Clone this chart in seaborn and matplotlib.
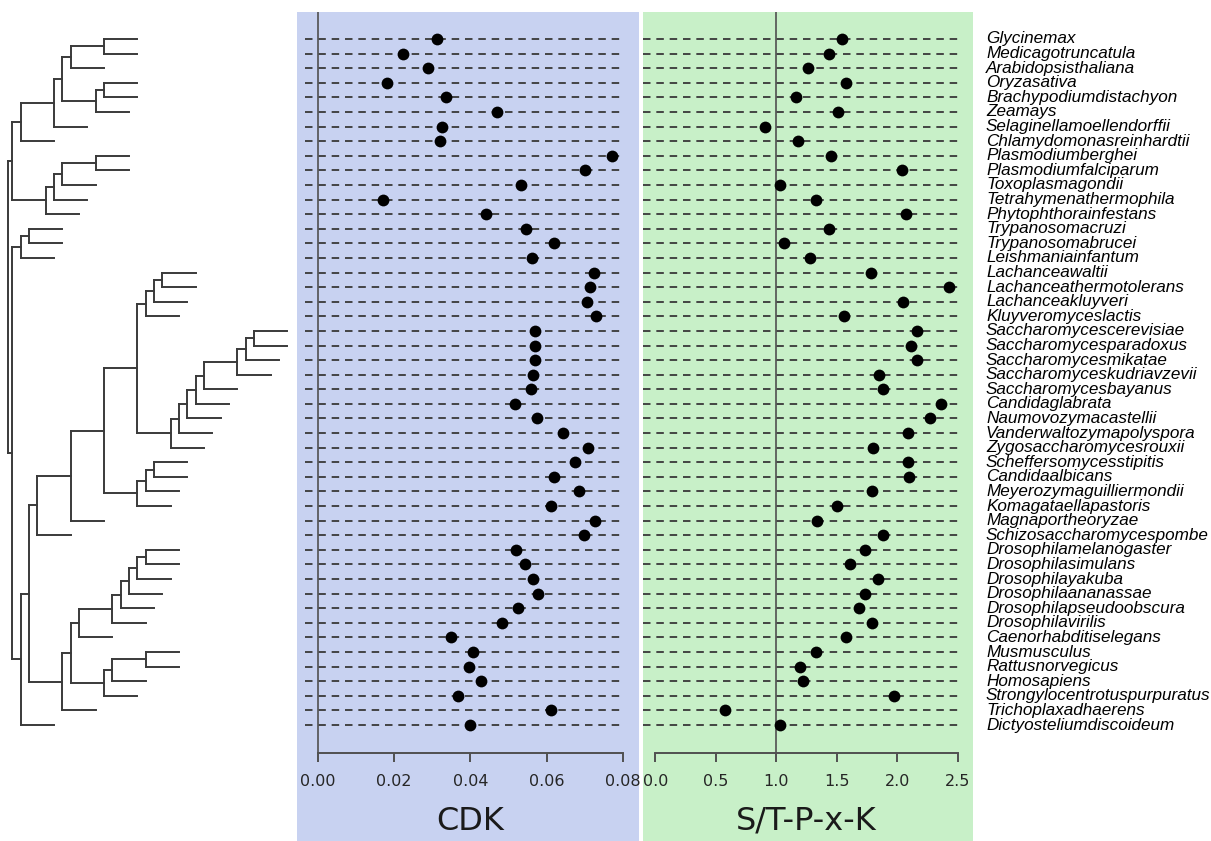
"""
Arbre phylogénétique + deux dotcharts (CDK et S/T-P-x-K) par espèce
"""
import matplotlib
matplotlib.use("Agg")
import numpy as np
import pandas as pd
import matplotlib.pyplot as plt
import seaborn as sns
from matplotlib.patches import Rectangle
from matplotlib.collections import LineCollection
from matplotlib.transforms import blended_transform_factory

sns.set_style("white")
plt.rcParams['font.family'] = ['DejaVu Sans']
plt.rcParams['lines.scale_dashes'] = False

# Données
especes = [
    "Glycinemax", "Medicagotruncatula", "Arabidopsisthaliana", "Oryzasativa",
    "Brachypodiumdistachyon", "Zeamays", "Selaginellamoellendorffii",
    "Chlamydomonasreinhardtii", "Plasmodiumberghei", "Plasmodiumfalciparum",
    "Toxoplasmagondii", "Tetrahymenathermophila", "Phytophthorainfestans",
    "Trypanosomacruzi", "Trypanosomabrucei", "Leishmaniainfantum",
    "Lachanceawaltii", "Lachanceathermotolerans", "Lachanceakluyveri",
    "Kluyveromyceslactis", "Saccharomycescerevisiae", "Saccharomycesparadoxus",
    "Saccharomycesmikatae", "Saccharomyceskudriavzevii", "Saccharomycesbayanus",
    "Candidaglabrata", "Naumovozymacastellii", "Vanderwaltozymapolyspora",
    "Zygosaccharomycesrouxii", "Scheffersomycesstipitis", "Candidaalbicans",
    "Meyerozymaguilliermondii", "Komagataellapastoris", "Magnaportheoryzae",
    "Schizosaccharomycespombe", "Drosophilamelanogaster", "Drosophilasimulans",
    "Drosophilayakuba", "Drosophilaananassae", "Drosophilapseudoobscura",
    "Drosophilavirilis", "Caenorhabditiselegans", "Musmusculus",
    "Rattusnorvegicus", "Homosapiens", "Strongylocentrotuspurpuratus",
    "Trichoplaxadhaerens", "Dictyosteliumdiscoideum",
]

cdk = [
    0.0312, 0.0223, 0.0289, 0.0181, 0.0336, 0.0470, 0.0325, 0.0320,
    0.0771, 0.0701, 0.0534, 0.0171, 0.0442, 0.0546, 0.0619, 0.0561,
    0.0723, 0.0713, 0.0706, 0.0730, 0.0569, 0.0569, 0.0569, 0.0564,
    0.0560, 0.0517, 0.0575, 0.0643, 0.0707, 0.0675, 0.0618, 0.0686,
    0.0612, 0.0727, 0.0697, 0.0519, 0.0542, 0.0563, 0.0577, 0.0525,
    0.0483, 0.0350, 0.0408, 0.0397, 0.0428, 0.0368, 0.0611, 0.0399,
]

stpxk = [
    1.54, 1.44, 1.26, 1.58, 1.16, 1.51, 0.91, 1.18,
    1.45, 2.04, 1.03, 1.33, 2.07, 1.44, 1.06, 1.28,
    1.78, 2.43, 2.05, 1.56, 2.16, 2.11, 2.16, 1.85,
    1.88, 2.36, 2.27, 2.09, 1.80, 2.09, 2.10, 1.79,
    1.50, 1.34, 1.88, 1.73, 1.61, 1.84, 1.73, 1.68,
    1.79, 1.58, 1.33, 1.20, 1.22, 1.97, 0.58, 1.03,
]

ticks_cdk = [0.00, 0.02, 0.04, 0.06, 0.08]
ticks_stpxk = [0.0, 0.5, 1.0, 1.5, 2.0, 2.5]

# Arbre (Newick, longueurs de branches)
dicots = "((Glycinemax:4,Medicagotruncatula:4):4,Arabidopsisthaliana:4)"
monocots = "((Oryzasativa:4,Brachypodiumdistachyon:4):1,Zeamays:4)"
plantes = f"((({dicots}:1,{monocots}:4):1,Selaginellamoellendorffii:4):4,Chlamydomonasreinhardtii:4)"
sar = ("((((Plasmodiumberghei:4,Plasmodiumfalciparum:4):4,Toxoplasmagondii:4):1,"
       "Tetrahymenathermophila:4):1,Phytophthorainfestans:4)")
kineto = "((Trypanosomacruzi:4,Trypanosomabrucei:4):1,Leishmaniainfantum:4)"
lachancea = ("(((Lachanceawaltii:4,Lachanceathermotolerans:4):1,Lachanceakluyveri:4):1,"
             "Kluyveromyceslactis:4)")
sacch = ("(((Saccharomycescerevisiae:4,Saccharomycesparadoxus:4):1,Saccharomycesmikatae:4):1,"
         "Saccharomyceskudriavzevii:4)")
wgd = (f"((((({sacch}:4,Saccharomycesbayanus:4):1,Candidaglabrata:4):1,"
       "Naumovozymacastellii:4):1,Vanderwaltozymapolyspora:4):1,Zygosaccharomycesrouxii:4)")
ctg = ("(((Scheffersomycesstipitis:4,Candidaalbicans:4):1,Meyerozymaguilliermondii:4):1,"
       "Komagataellapastoris:4)")
champignons = (f"(((({lachancea}:1,{wgd}:4):4,{ctg}:4):4,Magnaportheoryzae:4):4,"
               "Schizosaccharomycespombe:4)")
drosophiles = ("(((((Drosophilamelanogaster:4,Drosophilasimulans:4):1,Drosophilayakuba:4):1,"
               "Drosophilaananassae:4):1,Drosophilapseudoobscura:4):1,Drosophilavirilis:4)")
deuteros = ("(((Musmusculus:4,Rattusnorvegicus:4):4,Homosapiens:4):1,"
            "Strongylocentrotuspurpuratus:4)")
metazoaires = f"((({drosophiles}:4,Caenorhabditiselegans:4):1,{deuteros}:4):1,Trichoplaxadhaerens:4)"
amorphea = f"(({champignons}:1,{metazoaires}:4):1,Dictyosteliumdiscoideum:4)"
arbre_newick = f"(({plantes}:1,{sar}:4):0.5,({kineto}:1,{amorphea}:1):0.5);"


def lire_newick(texte):
    """Parse une chaîne Newick simple en dictionnaires imbriqués."""
    pos = 0

    def noeud():
        nonlocal pos
        enfants = []
        nom = None
        if texte[pos] == '(':
            pos += 1
            while True:
                enfants.append(noeud())
                car = texte[pos]
                pos += 1
                if car == ')':
                    break
        else:
            debut = pos
            while texte[pos] not in ':,);':
                pos += 1
            nom = texte[debut:pos]
        longueur = 0.0
        if texte[pos] == ':':
            pos += 1
            debut = pos
            while texte[pos] not in ',);':
                pos += 1
            longueur = float(texte[debut:pos])
        return {"nom": nom, "longueur": longueur, "enfants": enfants}

    return noeud()


def placer(n, x0, segments, rang):
    """Coordonnées façon ape::plot.phylo (noeud au milieu du 1er et dernier fils)."""
    x = x0 + n["longueur"]
    if not n["enfants"]:
        y = rang[n["nom"]]
    else:
        ys = [placer(e, x, segments, rang) for e in n["enfants"]]
        y = (ys[0] + ys[-1]) / 2
        segments.append([(x, ys[0]), (x, ys[-1])])
    if n["longueur"] > 0:
        segments.append([(x0, y), (x, y)])
    return y


df = pd.DataFrame({"espece": especes, "cdk": cdk, "stpxk": stpxk})
df["rang"] = np.arange(len(df))

# Mise en page (pixels de la figure)
W, H = 1211, 841
fig = plt.figure(figsize=(W / 100, H / 100), dpi=100)

haut_px, bas_px = 11.7, 752.5
ylim = (48.884, -1.870)


def axes_px(gauche, droite):
    return fig.add_axes([gauche / W, 1 - bas_px / H,
                         (droite - gauche) / W, (bas_px - haut_px) / H])


# Fonds colorés
fig.add_artist(Rectangle((297.3 / W, 0), (639.3 - 297.3) / W, 1 - haut_px / H,
                         transform=fig.transFigure, facecolor="#c8d2f1",
                         edgecolor="none", zorder=0))
fig.add_artist(Rectangle((643.3 / W, 0), (973 - 643.3) / W, 1 - haut_px / H,
                         transform=fig.transFigure, facecolor="#c8f0c8",
                         edgecolor="none", zorder=0))

# Arbre
ax_arbre = axes_px(0, 297)
segments = []
placer(lire_newick(arbre_newick), 0.0, segments, dict(zip(especes, df["rang"])))
ax_arbre.add_collection(LineCollection(segments, colors="#3a3a3a", linewidths=1.4,
                                       capstyle="projecting"))
ax_arbre.set_xlim(-0.996, 34.64)
ax_arbre.set_ylim(*ylim)
ax_arbre.axis("off")

panneaux = [
    ("cdk", "CDK", 305, 623.3, (-0.00333, 0.08008), 0.0, ticks_cdk, "{:.2f}"),
    ("stpxk", "S/T-P-x-K", 643.3, 961.7, (-0.0992, 2.533), 1.0, ticks_stpxk, "{:.1f}"),
]

for col, titre, g, d, xlim, vref, ticks, fmt in panneaux:
    ax = axes_px(g, d)
    ax.patch.set_visible(False)
    for y in df["rang"]:
        ax.axhline(y, color="#3e3e3e", lw=1.35, ls=(0, (5.4, 4.2)), zorder=1)
    ax.axvline(vref, color="#505050", lw=1.2, zorder=1)
    sns.scatterplot(data=df, x=col, y="rang", ax=ax, color="black", s=72,
                    linewidth=0, zorder=3, legend=False)
    ax.set_xlim(*xlim)
    ax.set_ylim(*ylim)
    for cote in ["left", "right", "top"]:
        ax.spines[cote].set_visible(False)
    ax.spines["bottom"].set_bounds(ticks[0], ticks[-1])
    ax.spines["bottom"].set_color("#505050")
    ax.spines["bottom"].set_linewidth(1.4)
    ax.set_xticks(ticks)
    ax.set_xticklabels([fmt.format(t) for t in ticks])
    ax.tick_params(axis="x", direction="out", length=6.5, width=1.4,
                   color="#505050", labelsize=11.5, labelcolor="#262626", pad=9,
                   bottom=True)
    ax.set_yticks([])
    ax.set_xlabel("")
    ax.set_ylabel("")
    trans = blended_transform_factory(ax.transData, fig.transFigure)
    ax.text((ticks[0] + ticks[-1]) / 2, 1 - 821 / H, titre, transform=trans,
            ha="center", va="center", fontsize=23, color="#1a1a1a")
    if col == "stpxk":
        trans_lab = blended_transform_factory(fig.transFigure, ax.transData)
        for nom, y in zip(df["espece"], df["rang"]):
            ax.text(986 / W, y, nom, transform=trans_lab, ha="left", va="center",
                    fontsize=12.3, fontstyle="italic", family=["Liberation Sans"],
                    color="black", clip_on=False)

fig.savefig("out.png", dpi=100)
